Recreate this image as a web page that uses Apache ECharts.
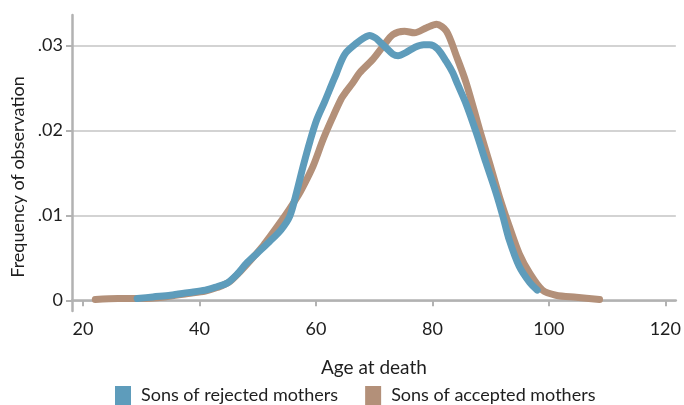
<!DOCTYPE html>
<html>
<head>
<meta charset="utf-8">
<script src="https://cdn.jsdelivr.net/npm/echarts@6/dist/echarts.min.js"></script>
<style>
  html, body { margin: 0; padding: 0; background: #fff; }
  #chart { width: 684px; height: 405px; }
</style>
</head>
<body>
<div id="chart"></div>
<script>
// age at death vs frequency
var rejected = [
  [29.3, 0.0002], [32, 0.0004], [35, 0.0006], [38, 0.0009], [41, 0.0012], [43, 0.0016],
  [44.7, 0.0020], [46.5, 0.0031], [48, 0.0043], [50, 0.0056], [52, 0.0069], [54, 0.0083],
  [55.5, 0.0099], [56.7, 0.0128], [57.8, 0.0158], [59, 0.0188], [60.1, 0.0212], [61.5, 0.0234],
  [62.7, 0.0254], [63.5, 0.0267], [64.3, 0.0281], [65.2, 0.0292], [67, 0.0303], [68.2, 0.0309],
  [69.2, 0.0312], [70.2, 0.0309], [71, 0.0304], [72.1, 0.0297], [73.2, 0.0290], [74.1, 0.0288],
  [75.5, 0.0292], [77, 0.0298], [78.5, 0.0301], [79.5, 0.0301], [80.9, 0.0296], [82.4, 0.0281],
  [83.5, 0.0268], [84.1, 0.0258], [85.8, 0.0231], [87.5, 0.0198], [89.2, 0.0162], [90.9, 0.0127],
  [92.1, 0.0099], [93.2, 0.0071], [94.9, 0.0040], [96.7, 0.0021], [98, 0.0012]
]
var accepted = [
  [22.1, 0.0001], [26, 0.0002], [30, 0.0002], [34, 0.0004], [38, 0.0008], [41, 0.0011],
  [43, 0.0015], [45, 0.0021], [47, 0.0034], [49, 0.0049], [51, 0.0065], [52.1, 0.0075],
  [54, 0.0093], [55.5, 0.0108], [57, 0.0124], [57.8, 0.0134], [59.5, 0.0158], [61.2, 0.0189],
  [62.7, 0.0213], [64.4, 0.0238], [65.2, 0.0246], [66.3, 0.0256], [67.5, 0.0268], [69.8, 0.0284],
  [71.5, 0.0299], [73.2, 0.0313], [75.2, 0.0317], [76.9, 0.0315], [79, 0.0321], [80.7, 0.0325],
  [82.4, 0.0317], [84.1, 0.0288], [85.8, 0.0256], [88.1, 0.0201], [89.8, 0.0162], [91.5, 0.0122],
  [93.2, 0.0087], [94.9, 0.0055], [96.7, 0.0032], [98.9, 0.0012], [101.2, 0.0006], [104.7, 0.00035],
  [108.7, 0.0001]
]
var xTicks = [20, 40, 60, 80, 100, 120]
var yTicks = [0, 0.01, 0.02, 0.03]
var seriesNames = ['Sons of rejected mothers', 'Sons of accepted mothers']

var FONT = 'Lato'
var TEXT = '#1e1e1e'
var chart = echarts.init(document.getElementById('chart'))
chart.setOption({
  backgroundColor: '#fff',
  animation: false,
  grid: { left: 72, right: 7, top: 15, bottom: 94 },
  legend: {
    data: seriesNames,
    top: 381,
    left: 110,
    itemWidth: 16,
    itemHeight: 19,
    itemGap: 27,
    icon: 'rect',
    textStyle: { fontFamily: FONT, fontSize: 18, color: TEXT, padding: [0, 0, 0, 5] }
  },
  xAxis: {
    type: 'value',
    min: 18.1,
    max: 121.8,
    name: 'Age at death',
    nameLocation: 'middle',
    nameGap: 47,
    nameTextStyle: { fontFamily: FONT, fontSize: 19, color: TEXT },
    axisLine: { lineStyle: { color: '#b2b2b2', width: 2.5 } },
    axisTick: { show: true, customValues: xTicks, length: 6, lineStyle: { color: '#b2b2b2', width: 2 } },
    axisLabel: { customValues: xTicks, margin: 9, fontFamily: FONT, fontSize: 18, color: TEXT },
    splitLine: { show: false }
  },
  yAxis: {
    type: 'value',
    min: -0.00126,
    max: 0.0336,
    name: 'Frequency of observation',
    nameLocation: 'middle',
    nameGap: 43,
    nameTextStyle: { fontFamily: FONT, fontSize: 18, color: TEXT, padding: [0, 28, 0, 0] },
    axisLine: { show: true, lineStyle: { color: '#b2b2b2', width: 2.5 } },
    axisTick: { show: true, customValues: yTicks, length: 6, lineStyle: { color: '#b2b2b2', width: 2 } },
    axisLabel: {
      customValues: yTicks, margin: 9, fontFamily: FONT, fontSize: 18, color: TEXT,
      formatter: function (v) { return v === 0 ? '0' : v.toFixed(2).replace(/^0/, '') }
    },
    splitLine: { show: true, lineStyle: { color: '#c4c4c4', width: 1.5 } }
  },
  series: [
    {
      name: 'Sons of accepted mothers',
      type: 'line',
      data: accepted,
      symbol: 'none',
      smooth: 0.3,
      z: 2,
      color: '#b39079',
      lineStyle: { width: 7, cap: 'round', join: 'round' }
    },
    {
      name: 'Sons of rejected mothers',
      type: 'line',
      data: rejected,
      symbol: 'none',
      smooth: 0.3,
      z: 3,
      color: '#5e9cbb',
      lineStyle: { width: 7, cap: 'round', join: 'round' }
    }
  ]
})
</script>
</body>
</html>
